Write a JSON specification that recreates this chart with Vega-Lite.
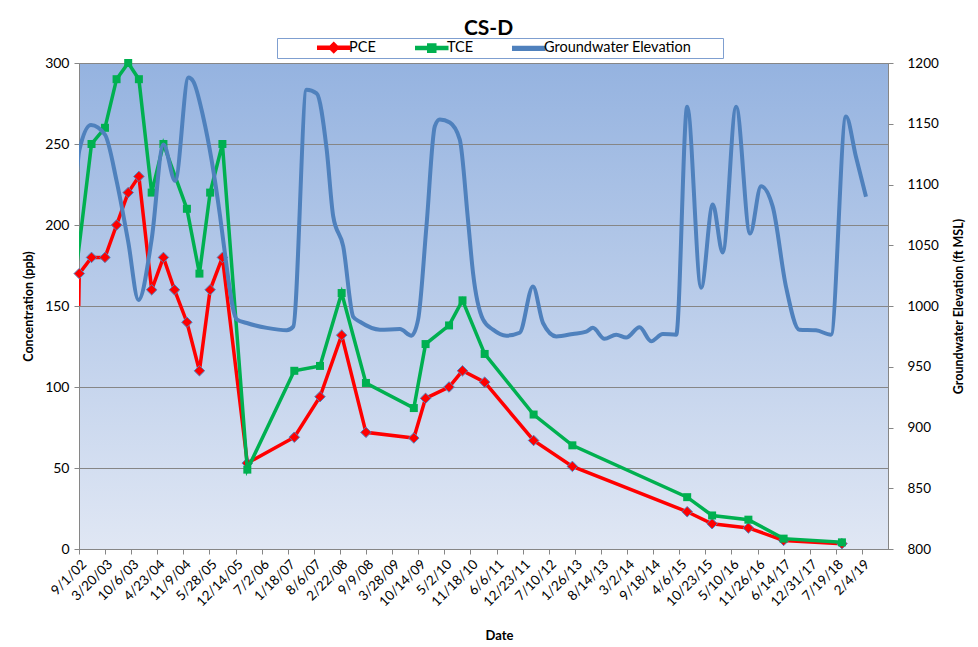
{
  "$schema": "https://vega.github.io/schema/vega-lite/v6.json",
  "width": 809,
  "height": 486,
  "autosize": {"type": "none"},
  "padding": {"left": 79, "top": 63, "right": 90, "bottom": 98},
  "background": "white",
  "config": {
    "font": "Lato",
    "view": {
      "stroke": "#868686",
      "strokeWidth": 1,
      "fill": {"gradient": "linear", "x1": 0, "y1": 0, "x2": 0, "y2": 1,
        "stops": [{"offset": 0, "color": "#95B3E0"}, {"offset": 1, "color": "#E0E7F4"}]}
    },
    "axis": {"labelColor": "#000000", "titleColor": "#000000", "domainColor": "#868686", "tickColor": "#868686", "labelFont": "Lato", "titleFont": "Lato"},
    "legend": {"strokeColor": "#7F9FD0", "fillColor": "#FFFFFF", "strokeWidth": 1}
  },
  "title": {"text": "CS-D", "fontSize": 21, "fontWeight": "bold", "font": "Lato", "color": "#000000", "anchor": "middle", "frame": "group", "offset": 5, "baseline": "alphabetic", "dx": 5, "dy": 23},
  "data": {
    "format": {"parse": {"date": "date"}},
    "values": [
      {"date": "2002/08/30", "series": "PCE", "value": 150},
      {"date": "2002/09/03", "series": "PCE", "value": 170},
      {"date": "2002/12/06", "series": "PCE", "value": 180},
      {"date": "2003/03/19", "series": "PCE", "value": 180},
      {"date": "2003/06/16", "series": "PCE", "value": 200},
      {"date": "2003/09/13", "series": "PCE", "value": 220},
      {"date": "2003/12/04", "series": "PCE", "value": 230},
      {"date": "2004/03/11", "series": "PCE", "value": 160},
      {"date": "2004/06/09", "series": "PCE", "value": 180},
      {"date": "2004/09/02", "series": "PCE", "value": 160},
      {"date": "2004/12/06", "series": "PCE", "value": 140},
      {"date": "2005/03/12", "series": "PCE", "value": 110},
      {"date": "2005/06/02", "series": "PCE", "value": 160},
      {"date": "2005/09/04", "series": "PCE", "value": 180},
      {"date": "2006/03/14", "series": "PCE", "value": 53},
      {"date": "2007/03/09", "series": "PCE", "value": 69},
      {"date": "2007/09/22", "series": "PCE", "value": 94},
      {"date": "2008/03/06", "series": "PCE", "value": 132},
      {"date": "2008/09/08", "series": "PCE", "value": 72},
      {"date": "2009/09/10", "series": "PCE", "value": 68.5},
      {"date": "2009/12/09", "series": "PCE", "value": 93},
      {"date": "2010/06/07", "series": "PCE", "value": 100},
      {"date": "2010/09/18", "series": "PCE", "value": 110},
      {"date": "2011/03/07", "series": "PCE", "value": 103},
      {"date": "2012/03/16", "series": "PCE", "value": 67},
      {"date": "2013/01/07", "series": "PCE", "value": 51},
      {"date": "2015/06/06", "series": "PCE", "value": 23},
      {"date": "2015/12/14", "series": "PCE", "value": 15.6},
      {"date": "2016/09/17", "series": "PCE", "value": 13},
      {"date": "2017/06/14", "series": "PCE", "value": 5.3},
      {"date": "2018/09/04", "series": "PCE", "value": 3.3},
      {"date": "2002/06/01", "series": "TCE", "value": 125},
      {"date": "2002/12/06", "series": "TCE", "value": 250},
      {"date": "2003/03/19", "series": "TCE", "value": 260},
      {"date": "2003/06/16", "series": "TCE", "value": 290},
      {"date": "2003/09/13", "series": "TCE", "value": 300},
      {"date": "2003/12/04", "series": "TCE", "value": 290},
      {"date": "2004/03/11", "series": "TCE", "value": 220},
      {"date": "2004/06/09", "series": "TCE", "value": 250},
      {"date": "2004/12/06", "series": "TCE", "value": 210},
      {"date": "2005/03/12", "series": "TCE", "value": 170},
      {"date": "2005/06/02", "series": "TCE", "value": 220},
      {"date": "2005/09/04", "series": "TCE", "value": 250},
      {"date": "2006/03/14", "series": "TCE", "value": 49},
      {"date": "2007/03/09", "series": "TCE", "value": 110},
      {"date": "2007/09/22", "series": "TCE", "value": 113},
      {"date": "2008/03/06", "series": "TCE", "value": 158},
      {"date": "2008/09/08", "series": "TCE", "value": 102.5},
      {"date": "2009/09/10", "series": "TCE", "value": 87},
      {"date": "2009/12/09", "series": "TCE", "value": 126.5},
      {"date": "2010/06/07", "series": "TCE", "value": 138},
      {"date": "2010/09/18", "series": "TCE", "value": 153.5},
      {"date": "2011/03/07", "series": "TCE", "value": 120.4},
      {"date": "2012/03/16", "series": "TCE", "value": 83},
      {"date": "2013/01/07", "series": "TCE", "value": 64},
      {"date": "2015/06/06", "series": "TCE", "value": 32},
      {"date": "2015/12/14", "series": "TCE", "value": 20.7},
      {"date": "2016/09/17", "series": "TCE", "value": 18.1},
      {"date": "2017/06/14", "series": "TCE", "value": 6.4},
      {"date": "2018/09/04", "series": "TCE", "value": 4.1},
      {"date": "2002/07/01", "series": "Groundwater Elevation", "value": 1000},
      {"date": "2002/09/03", "series": "Groundwater Elevation", "value": 1128},
      {"date": "2002/12/02", "series": "Groundwater Elevation", "value": 1149},
      {"date": "2003/03/19", "series": "Groundwater Elevation", "value": 1141},
      {"date": "2003/06/16", "series": "Groundwater Elevation", "value": 1103},
      {"date": "2003/09/13", "series": "Groundwater Elevation", "value": 1053},
      {"date": "2003/12/01", "series": "Groundwater Elevation", "value": 1005},
      {"date": "2004/03/11", "series": "Groundwater Elevation", "value": 1055},
      {"date": "2004/06/09", "series": "Groundwater Elevation", "value": 1133},
      {"date": "2004/09/07", "series": "Groundwater Elevation", "value": 1103},
      {"date": "2004/12/18", "series": "Groundwater Elevation", "value": 1188},
      {"date": "2005/01/23", "series": "Groundwater Elevation", "value": 1185},
      {"date": "2005/04/09", "series": "Groundwater Elevation", "value": 1156},
      {"date": "2005/08/17", "series": "Groundwater Elevation", "value": 1074},
      {"date": "2005/09/09", "series": "Groundwater Elevation", "value": 1055},
      {"date": "2005/12/23", "series": "Groundwater Elevation", "value": 989},
      {"date": "2006/03/10", "series": "Groundwater Elevation", "value": 986},
      {"date": "2006/08/10", "series": "Groundwater Elevation", "value": 982},
      {"date": "2007/01/10", "series": "Groundwater Elevation", "value": 980},
      {"date": "2007/03/01", "series": "Groundwater Elevation", "value": 983},
      {"date": "2007/06/11", "series": "Groundwater Elevation", "value": 1178},
      {"date": "2007/08/27", "series": "Groundwater Elevation", "value": 1175},
      {"date": "2007/11/12", "series": "Groundwater Elevation", "value": 1129},
      {"date": "2008/01/01", "series": "Groundwater Elevation", "value": 1074},
      {"date": "2008/03/18", "series": "Groundwater Elevation", "value": 1049},
      {"date": "2008/06/03", "series": "Groundwater Elevation", "value": 991},
      {"date": "2008/07/24", "series": "Groundwater Elevation", "value": 987},
      {"date": "2008/12/24", "series": "Groundwater Elevation", "value": 980.5},
      {"date": "2009/05/26", "series": "Groundwater Elevation", "value": 981},
      {"date": "2009/08/23", "series": "Groundwater Elevation", "value": 975.6},
      {"date": "2009/10/13", "series": "Groundwater Elevation", "value": 989},
      {"date": "2009/12/16", "series": "Groundwater Elevation", "value": 1066},
      {"date": "2010/02/18", "series": "Groundwater Elevation", "value": 1148},
      {"date": "2010/03/28", "series": "Groundwater Elevation", "value": 1153.5},
      {"date": "2010/06/13", "series": "Groundwater Elevation", "value": 1151},
      {"date": "2010/08/28", "series": "Groundwater Elevation", "value": 1137},
      {"date": "2010/10/30", "series": "Groundwater Elevation", "value": 1071},
      {"date": "2010/12/08", "series": "Groundwater Elevation", "value": 1027},
      {"date": "2011/02/22", "series": "Groundwater Elevation", "value": 989},
      {"date": "2011/05/10", "series": "Groundwater Elevation", "value": 980.5},
      {"date": "2011/08/20", "series": "Groundwater Elevation", "value": 975.6},
      {"date": "2011/11/30", "series": "Groundwater Elevation", "value": 978},
      {"date": "2012/03/11", "series": "Groundwater Elevation", "value": 1016},
      {"date": "2012/05/27", "series": "Groundwater Elevation", "value": 986},
      {"date": "2012/09/06", "series": "Groundwater Elevation", "value": 975},
      {"date": "2013/01/11", "series": "Groundwater Elevation", "value": 977},
      {"date": "2013/04/24", "series": "Groundwater Elevation", "value": 979},
      {"date": "2013/06/13", "series": "Groundwater Elevation", "value": 982},
      {"date": "2013/09/10", "series": "Groundwater Elevation", "value": 973},
      {"date": "2013/12/09", "series": "Groundwater Elevation", "value": 976.4},
      {"date": "2014/02/24", "series": "Groundwater Elevation", "value": 974},
      {"date": "2014/06/06", "series": "Groundwater Elevation", "value": 982.5},
      {"date": "2014/09/03", "series": "Groundwater Elevation", "value": 971},
      {"date": "2014/12/01", "series": "Groundwater Elevation", "value": 977},
      {"date": "2015/03/14", "series": "Groundwater Elevation", "value": 976.4},
      {"date": "2015/06/06", "series": "Groundwater Elevation", "value": 1164},
      {"date": "2015/09/21", "series": "Groundwater Elevation", "value": 1015},
      {"date": "2015/12/19", "series": "Groundwater Elevation", "value": 1083.5},
      {"date": "2016/03/04", "series": "Groundwater Elevation", "value": 1044},
      {"date": "2016/06/15", "series": "Groundwater Elevation", "value": 1164},
      {"date": "2016/09/30", "series": "Groundwater Elevation", "value": 1059.6},
      {"date": "2016/12/23", "series": "Groundwater Elevation", "value": 1098.5},
      {"date": "2017/03/22", "series": "Groundwater Elevation", "value": 1082},
      {"date": "2017/07/02", "series": "Groundwater Elevation", "value": 1016},
      {"date": "2017/10/12", "series": "Groundwater Elevation", "value": 980.5},
      {"date": "2018/02/17", "series": "Groundwater Elevation", "value": 980},
      {"date": "2018/06/12", "series": "Groundwater Elevation", "value": 976.4},
      {"date": "2018/10/05", "series": "Groundwater Elevation", "value": 1156},
      {"date": "2018/12/20", "series": "Groundwater Elevation", "value": 1123},
      {"date": "2019/03/07", "series": "Groundwater Elevation", "value": 1090}
    ]
  },
  "encoding": {
    "x": {
      "field": "date", "type": "temporal",
      "scale": {"domain": [{"year": 2002, "month": 9, "date": 1}, {"year": 2019, "month": 8, "date": 23}]},
      "axis": {
        "values": [
          {"year": 2002, "month": 9, "date": 1}, {"year": 2003, "month": 3, "date": 20}, {"year": 2003, "month": 10, "date": 6},
          {"year": 2004, "month": 4, "date": 23}, {"year": 2004, "month": 11, "date": 9}, {"year": 2005, "month": 5, "date": 28},
          {"year": 2005, "month": 12, "date": 14}, {"year": 2006, "month": 7, "date": 2}, {"year": 2007, "month": 1, "date": 18},
          {"year": 2007, "month": 8, "date": 6}, {"year": 2008, "month": 2, "date": 22}, {"year": 2008, "month": 9, "date": 9},
          {"year": 2009, "month": 3, "date": 28}, {"year": 2009, "month": 10, "date": 14}, {"year": 2010, "month": 5, "date": 2},
          {"year": 2010, "month": 11, "date": 18}, {"year": 2011, "month": 6, "date": 6}, {"year": 2011, "month": 12, "date": 23},
          {"year": 2012, "month": 7, "date": 10}, {"year": 2013, "month": 1, "date": 26}, {"year": 2013, "month": 8, "date": 14},
          {"year": 2014, "month": 3, "date": 2}, {"year": 2014, "month": 9, "date": 18}, {"year": 2015, "month": 4, "date": 6},
          {"year": 2015, "month": 10, "date": 23}, {"year": 2016, "month": 5, "date": 10}, {"year": 2016, "month": 11, "date": 26},
          {"year": 2017, "month": 6, "date": 14}, {"year": 2017, "month": 12, "date": 31}, {"year": 2018, "month": 7, "date": 19},
          {"year": 2019, "month": 2, "date": 4}
        ],
        "format": "%-m/%-d/%y",
        "labelAngle": -45,
        "labelFontSize": 13.5,
        "labelOverlap": false,
        "labelFlush": false,
        "labelPadding": 3,
        "tickSize": 5,
        "grid": false,
        "title": "Date",
        "titleFontSize": 13,
        "titleFontWeight": "bold",
        "titleX": 420,
        "titleY": 90,
        "titleBaseline": "alphabetic",
        "titleAnchor": null,
        "titleAlign": "center"
      }
    },
    "color": {
      "field": "series", "type": "nominal",
      "scale": {"domain": ["PCE", "TCE", "Groundwater Elevation"], "range": ["#FF0000", "#00B050", "#4F81BD"]},
      "legend": {
        "orient": "none", "legendX": 198, "legendY": -25, "direction": "horizontal",
        "title": " ", "titleOrient": "left", "titleFontSize": 1, "titlePadding": 47.5,
        "strokeColor": "#7F9FD0", "fillColor": "#FFFFFF", "padding": 2,
        "labelFont": "Lato", "labelFontSize": 14.5, "labelColor": "#000000", "labelOffset": 8,
        "labelExpr": "datum.label === 'Groundwater Elevation' ? datum.label + '\u2003\u2003\u2002\u200d' : datum.label",
        "labelLimit": 400,
        "columnPadding": 36, "symbolSize": 144,
        "encode": {
          "symbols": {
            "update": {
              "shape": {"signal": "datum.value === 'PCE' ? 'M-2.67,-0.25L-0.58,-0.25L0,-0.83L0.58,-0.25L2.67,-0.25L2.67,0.25L0.58,0.25L0,0.83L-0.58,0.25L-2.67,0.25Z' : datum.value === 'TCE' ? 'M-2.67,-0.25L-0.67,-0.25L-0.67,-0.67L0.67,-0.67L0.67,-0.25L2.67,-0.25L2.67,0.25L0.67,0.25L0.67,0.67L-0.67,0.67L-0.67,0.25L-2.67,0.25Z' : 'M-2.67,-0.3L2.67,-0.3L2.67,0.3L-2.67,0.3Z'"},
              "fill": {"scale": "color", "field": "value"},
              "stroke": {"value": "transparent"},
              "size": {"value": 144},
              "opacity": {"value": 1}
            }
          }
        }
      }
    }
  },
  "layer": [
    {
      "encoding": {
        "y": {
          "field": "value", "type": "quantitative",
          "scale": {"domain": [0, 300], "nice": false, "zero": false},
          "axis": {
            "orient": "left", "values": [0, 50, 100, 150, 200, 250, 300],
            "grid": true, "gridColor": "#868686", "gridWidth": 1,
            "labelFontSize": 14, "labelPadding": 5, "tickSize": 5,
            "title": "Concentration (ppb)", "titleFontSize": 12.5, "titleFontWeight": "bold",
            "titleAngle": -90, "titleX": -50.5, "titleY": 243, "titleBaseline": "middle", "titleAlign": "center"
          }
        }
      },
      "layer": [
        {
          "transform": [{"filter": "datum.series === 'PCE'"}],
          "mark": {"type": "line", "strokeWidth": 3.5, "clip": true}
        },
        {
          "transform": [{"filter": "datum.series === 'PCE' && datum.date >= datetime(2002, 8, 1)"}],
          "mark": {"type": "point", "shape": "diamond", "size": 110, "filled": true, "opacity": 1, "stroke": "#4F81BD", "strokeWidth": 1}
        },
        {
          "transform": [{"filter": "datum.series === 'TCE'"}],
          "mark": {"type": "line", "strokeWidth": 3.5, "clip": true}
        },
        {
          "transform": [{"filter": "datum.series === 'TCE' && datum.date >= datetime(2002, 8, 1)"}],
          "mark": {"type": "point", "shape": "square", "size": 64, "filled": true, "opacity": 1}
        }
      ]
    },
    {
      "transform": [{"filter": "datum.series === 'Groundwater Elevation'"}],
      "mark": {"type": "line", "strokeWidth": 4, "interpolate": "monotone", "clip": true},
      "encoding": {
        "y": {
          "field": "value", "type": "quantitative",
          "scale": {"domain": [800, 1200], "nice": false, "zero": false},
          "axis": {
            "orient": "right", "values": [800, 850, 900, 950, 1000, 1050, 1100, 1150, 1200],
            "format": "d",
            "grid": false, "labelFontSize": 13.5, "labelPadding": 14, "tickSize": 5,
            "title": "Groundwater Elevation (ft MSL)", "titleFontSize": 12.5, "titleFontWeight": "bold",
            "titleAngle": -90, "titleX": 70, "titleY": 243, "titleBaseline": "middle", "titleAlign": "center"
          }
        }
      }
    }
  ],
  "resolve": {"scale": {"y": "independent"}}
}
